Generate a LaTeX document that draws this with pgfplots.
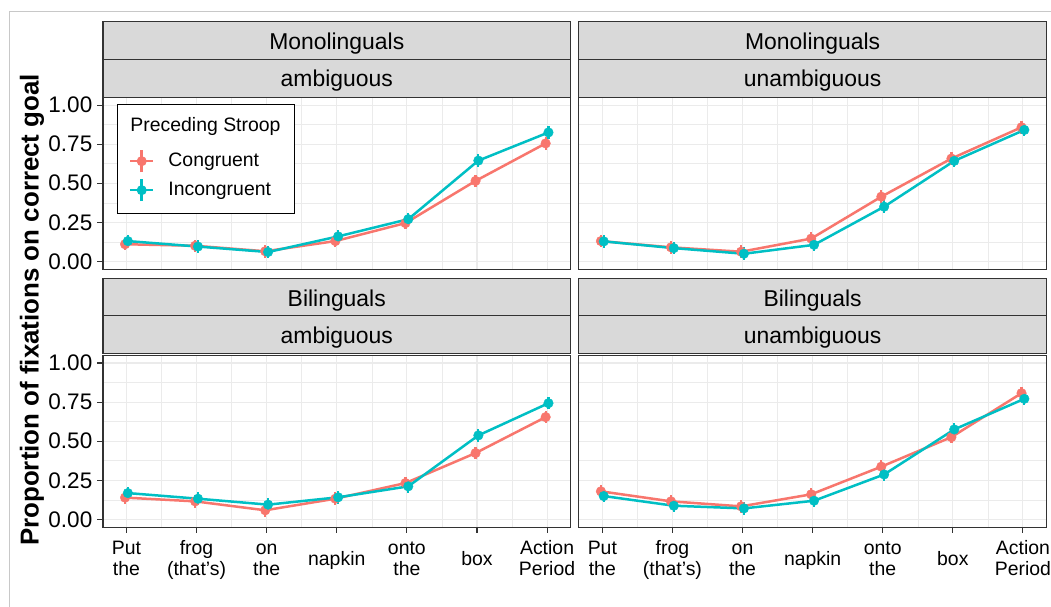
\documentclass[border=0pt]{standalone}
\usepackage{pgfplots}
\usepackage{pgfplotstable}
\pgfplotsset{compat=1.18}
\usepackage{fontspec}
\setmainfont{Liberation Sans}

\definecolor{cong}{HTML}{F8766D}
\definecolor{inc}{HTML}{00BFC4}
\definecolor{g20}{HTML}{333333}
\definecolor{gridc}{HTML}{EBEBEB}
\definecolor{stripc}{HTML}{D9D9D9}
\definecolor{framec}{HTML}{C8C8C8}

% x  congruent  incongruent
\pgfplotstableread{
x c i
1 0.110 0.130
2 0.100 0.095
3 0.065 0.060
4 0.130 0.160
5 0.245 0.270
6 0.515 0.645
7 0.755 0.825
}\monoamb
\pgfplotstableread{
x c i
1 0.130 0.128
2 0.090 0.085
3 0.062 0.049
4 0.146 0.106
5 0.414 0.350
6 0.658 0.643
7 0.858 0.841
}\monounamb
\pgfplotstableread{
x c i
1 0.139 0.168
2 0.115 0.132
3 0.058 0.094
4 0.132 0.141
5 0.232 0.211
6 0.424 0.537
7 0.654 0.743
}\biamb
\pgfplotstableread{
x c i
1 0.179 0.149
2 0.115 0.087
3 0.083 0.070
4 0.160 0.119
5 0.337 0.287
6 0.526 0.575
7 0.807 0.771
}\biunamb

\newcommand{\xl}[2]{\begin{tabular}[t]{@{}c@{}}#1\\#2\end{tabular}}
\newcommand{\xs}[1]{\raisebox{-10.5bp}{#1}}

\pgfplotsset{
  panel/.style={
    scale only axis, width=467.7bp, height=172bp,
    xmin=0.665, xmax=7.335, ymin=-0.05, ymax=1.05,
    xtick={1,2,3,4,5,6,7}, ytick={0,0.25,0.5,0.75,1},
    minor xtick={1.5,2.5,3.5,4.5,5.5,6.5},
    minor ytick={0.125,0.375,0.625,0.875},
    grid=both,
    major grid style={draw=gridc, line width=1.1bp},
    minor grid style={draw=gridc, line width=0.55bp},
    axis line style={draw=g20, line width=1.1bp},
    tick pos=left,
    tick align=outside, major tick length=5.5bp, minor tick length=0pt,
    tick style={draw=g20, line width=1.1bp},
    yticklabel style={font=\fontsize{22.6}{24}\selectfont, anchor=east, inner sep=0pt, xshift=-5bp},
    y tick label style={/pgf/number format/.cd, fixed, fixed zerofill, precision=2, assume math mode=true},
    xticklabel style={font=\fontsize{19.5}{21}\selectfont, anchor=base, inner sep=0pt, yshift=-21.9bp},
    xticklabels={{\xl{Put}{the}},{\xl{frog}{(that's)}},{\xl{on}{the}},{\xs{napkin}},{\xl{onto}{the}},{\xs{box}},{\xl{Action}{Period}}},
    clip=false,
  },
  toprow/.style={xticklabels={}, xtick style={draw=none}},
  rightcol/.style={yticklabels={}, ytick style={draw=none}},
  lc/.style={draw=cong, line width=2.5bp, no marks, forget plot},
  li/.style={draw=inc, line width=2.5bp, no marks, forget plot},
  pc/.style={only marks, mark=*, mark size=4.8bp, color=cong, forget plot,
    error bars/.cd, y dir=both, y fixed=0.04, error mark=none,
    error bar style={line width=2.2bp, draw=cong}},
  pi/.style={only marks, mark=*, mark size=4.8bp, color=inc, forget plot,
    error bars/.cd, y dir=both, y fixed=0.04, error mark=none,
    error bar style={line width=2.2bp, draw=inc}},
}

\newcommand{\series}[1]{%
  \addplot[lc] table[x expr=\thisrow{x}-0.02, y=c] {#1};
  \addplot[li] table[x expr=\thisrow{x}+0.02, y=i] {#1};
  \addplot[pc] table[x expr=\thisrow{x}-0.02, y=c] {#1};
  \addplot[pi] table[x expr=\thisrow{x}+0.02, y=i] {#1};
}

\begin{document}
\begin{tikzpicture}
\begin{scope}[x=1bp,y=1bp]
\fill[white] (0,0) rectangle (1051,-607);
\path[use as bounding box] (0,0) rectangle (1051,-607);
\draw[framec, line width=1bp] (10,-607) -- (10,-12) -- (1051,-12);

% strips
\foreach \xx/\yy in {103/21.7, 579/21.7, 103/278.3, 579/278.3} {
  \draw[fill=stripc, draw=g20, line width=1.1bp] (\xx,-\yy) rectangle ++(467.7,-37.6);
  \draw[fill=stripc, draw=g20, line width=1.1bp] (\xx,-\yy-37.6) rectangle ++(467.7,-38.1);
}
\begin{scope}[every node/.style={font=\fontsize{23}{24}\selectfont, anchor=base}]
\node at (336.85,-50) {Monolinguals};
\node at (812.85,-50) {Monolinguals};
\node at (336.85,-86.7) {ambiguous};
\node at (812.85,-86.7) {unambiguous};
\node at (336.85,-306.6) {Bilinguals};
\node at (812.85,-306.6) {Bilinguals};
\node at (336.85,-343.3) {ambiguous};
\node at (812.85,-343.3) {unambiguous};
\end{scope}

\node[rotate=90, font=\bfseries\fontsize{26}{28}\selectfont] at (32,-310) {Proportion of fixations on correct goal};
\end{scope}

% top left
\begin{axis}[panel, toprow, at={(103bp,-269.3bp)}, anchor=south west,
  legend cell align=left,
  legend style={at={(0.0299,0.961)}, anchor=north west, draw=black, line width=1bp,
    fill=white, inner xsep=11.5bp, inner ysep=11bp, column sep=12bp, row sep=4.5bp,
    font=\fontsize{19.5}{21}\selectfont,
    nodes={text height=14bp, text depth=4bp, inner sep=2bp, line width=0.4pt}},
]
\series{\monoamb}
\addlegendimage{empty legend}
\addlegendentry[text depth=11bp]{\hspace{-38bp}Preceding Stroop}
\addlegendimage{legend image code/.code={
  \draw[cong, line width=2.5bp] (-11.5bp,0) -- (11.5bp,0);
  \draw[cong, line width=2.5bp] (0,-11bp) -- (0,11bp);
  \fill[cong] (0,0) circle (4.5bp);}}
\addlegendentry{Congruent}
\addlegendimage{legend image code/.code={
  \draw[inc, line width=2.5bp] (-11.5bp,0) -- (11.5bp,0);
  \draw[inc, line width=2.5bp] (0,-11bp) -- (0,11bp);
  \fill[inc] (0,0) circle (4.5bp);}}
\addlegendentry{Incongruent}
\end{axis}

% top right
\begin{axis}[panel, toprow, rightcol, at={(579bp,-269.3bp)}, anchor=south west]
\series{\monounamb}
\end{axis}

% bottom left
\begin{axis}[panel, at={(103bp,-527.3bp)}, anchor=south west]
\series{\biamb}
\end{axis}

% bottom right
\begin{axis}[panel, rightcol, at={(579bp,-527.3bp)}, anchor=south west]
\series{\biunamb}
\end{axis}
\end{tikzpicture}
\end{document}
